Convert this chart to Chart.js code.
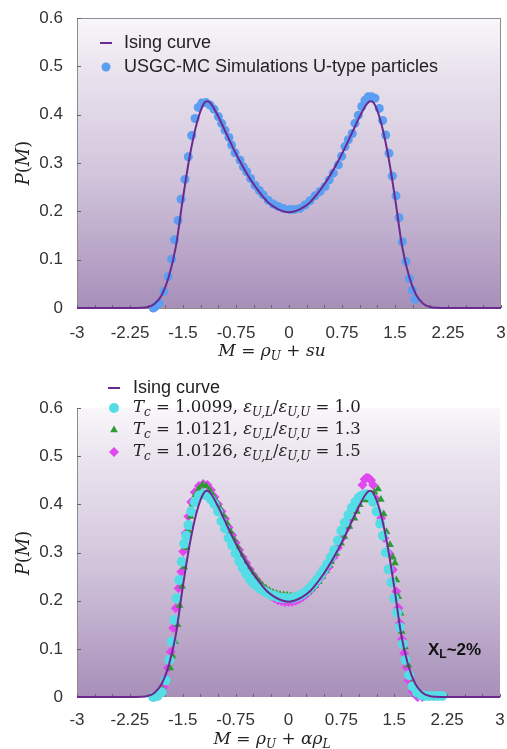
<!DOCTYPE html>
<html>
<head>
<meta charset="utf-8">
<script src="https://cdn.jsdelivr.net/npm/chart.js@4.4.1/dist/chart.umd.min.js"></script>
<style>
  body { margin: 0; background: #fff; width: 507px; height: 749px; overflow: hidden; position: relative; }
  canvas { position: absolute; left: 0; }
  #topChart { top: 0; }
  #botChart { top: 370px; }
</style>
</head>
<body>
<canvas id="topChart" width="507" height="370"></canvas>
<canvas id="botChart" width="507" height="379"></canvas>
<script>
// axis ticks
const xTicks = [-3, -2.25, -1.5, -0.75, 0, 0.75, 1.5, 2.25, 3];
const yTicks = [0, 0.1, 0.2, 0.3, 0.4, 0.5, 0.6];

// Ising curve
const isingM = [-3, -2.5, -2.2, -2.1, -2.0, -1.9, -1.8, -1.7, -1.6, -1.5, -1.4, -1.3, -1.2, -1.15, -1.1, -1.0, -0.9, -0.8, -0.7, -0.6, -0.5, -0.4, -0.3, -0.2, -0.1,
  0, 0.1, 0.2, 0.3, 0.4, 0.5, 0.6, 0.7, 0.8, 0.9, 1.0, 1.1, 1.15, 1.2, 1.3, 1.4, 1.5, 1.6, 1.7, 1.8, 1.9, 2.0, 2.1, 2.2, 2.5, 3];
const isingP = [0, 0, 0, 0.0005, 0.002, 0.009, 0.027, 0.065, 0.128, 0.228, 0.318, 0.385, 0.424, 0.428, 0.422, 0.396, 0.365, 0.334, 0.305, 0.279, 0.256, 0.236, 0.219, 0.208, 0.201,
  0.198, 0.201, 0.208, 0.219, 0.236, 0.256, 0.279, 0.305, 0.334, 0.365, 0.396, 0.422, 0.428, 0.424, 0.385, 0.318, 0.228, 0.128, 0.065, 0.027, 0.009, 0.002, 0.0005, 0, 0, 0];

// top panel: USGC-MC simulations, U-type particles
const usgcM = [-1.92, -1.89, -1.84, -1.77, -1.71, -1.66, -1.62, -1.57, -1.528, -1.472, -1.425, -1.377, -1.33, -1.284, -1.236, -1.175, -1.118, -1.061, -1.0, -0.953, -0.906, -0.85, -0.812, -0.764, -0.693, -0.646, -0.599, -0.543, -0.481, -0.42, -0.364, -0.293, -0.222, -0.151, -0.08, 0.014,
  0.08, 0.156, 0.226, 0.297, 0.368, 0.439, 0.509, 0.57, 0.627, 0.698, 0.745, 0.792, 0.839, 0.896, 0.934, 0.981, 1.029, 1.075, 1.122, 1.17, 1.217, 1.278, 1.325, 1.368, 1.415, 1.462, 1.514, 1.557, 1.604, 1.655, 1.703, 1.745, 1.783];
const usgcP = [0.0, 0.003, 0.01, 0.034, 0.065, 0.101, 0.141, 0.181, 0.225, 0.266, 0.313, 0.357, 0.392, 0.415, 0.424, 0.425, 0.42, 0.411, 0.396, 0.382, 0.368, 0.353, 0.337, 0.321, 0.306, 0.292, 0.282, 0.268, 0.254, 0.243, 0.234, 0.223, 0.215, 0.21, 0.206, 0.204,
  0.204, 0.206, 0.213, 0.222, 0.232, 0.241, 0.251, 0.265, 0.279, 0.296, 0.314, 0.334, 0.348, 0.361, 0.382, 0.399, 0.417, 0.43, 0.437, 0.437, 0.434, 0.413, 0.388, 0.358, 0.32, 0.273, 0.232, 0.187, 0.137, 0.096, 0.061, 0.037, 0.018];

// bottom panel: eps ratio 1.0 (cyan)
const cyanM = [-1.92, -1.86, -1.8, -1.74, -1.69, -1.657, -1.62, -1.587, -1.55, -1.515, -1.48, -1.45, -1.42, -1.38, -1.33, -1.27, -1.21, -1.15, -1.1, -1.05, -1.0, -0.95, -0.9, -0.85, -0.8, -0.75, -0.7, -0.65, -0.6, -0.55, -0.5, -0.45, -0.4, -0.35, -0.3, -0.25, -0.2, -0.15, -0.1, -0.05,
  0, 0.05, 0.1, 0.15, 0.2, 0.25, 0.3, 0.35, 0.4, 0.45, 0.5, 0.55, 0.6, 0.65, 0.7, 0.75, 0.8, 0.85, 0.9, 0.95, 1.0, 1.05, 1.1, 1.15, 1.2, 1.25, 1.3, 1.34, 1.38, 1.42, 1.46, 1.5, 1.54, 1.58, 1.62, 1.66, 1.71, 1.76, 1.82, 1.88, 1.94, 2.0, 2.06, 2.12, 2.18];
const cyanP = [0.0, 0.002, 0.01, 0.035, 0.077, 0.115, 0.16, 0.205, 0.243, 0.281, 0.318, 0.335, 0.357, 0.385, 0.405, 0.418, 0.422, 0.418, 0.41, 0.4, 0.385, 0.365, 0.35, 0.33, 0.315, 0.298, 0.282, 0.268, 0.256, 0.245, 0.236, 0.23, 0.225, 0.22, 0.216, 0.212, 0.21, 0.207, 0.206, 0.205,
  0.205, 0.205, 0.207, 0.21, 0.214, 0.219, 0.226, 0.234, 0.243, 0.253, 0.264, 0.276, 0.29, 0.305, 0.325, 0.345, 0.362, 0.378, 0.393, 0.405, 0.414, 0.419, 0.421, 0.418, 0.405, 0.385, 0.36, 0.335, 0.3, 0.265, 0.238, 0.205, 0.175, 0.145, 0.11, 0.077, 0.045, 0.022, 0.01, 0.004, 0.002, 0.002, 0.002, 0.002, 0.002];

// bottom panel: eps ratio 1.3 (green)
const greenM = [-1.85, -1.78, -1.72, -1.68, -1.645, -1.61, -1.575, -1.545, -1.51, -1.48, -1.45, -1.42, -1.39, -1.36, -1.32, -1.27, -1.22, -1.17, -1.12, -1.07, -1.02, -0.97, -0.92, -0.87, -0.82, -0.77, -0.72, -0.67, -0.62, -0.57, -0.52, -0.47, -0.42, -0.37, -0.32, -0.27, -0.22, -0.17, -0.12, -0.07, -0.02,
  0.03, 0.08, 0.13, 0.18, 0.23, 0.28, 0.33, 0.38, 0.43, 0.48, 0.53, 0.58, 0.605, 0.676, 0.746, 0.793, 0.864, 0.935, 0.97, 1.01, 1.08, 1.15, 1.22, 1.27, 1.31, 1.35, 1.39, 1.44, 1.48, 1.51, 1.53, 1.557, 1.59, 1.605, 1.65, 1.7, 1.747, 1.8, 1.86, 1.92];
const greenP = [0.002, 0.015, 0.035, 0.06, 0.085, 0.115, 0.15, 0.19, 0.23, 0.27, 0.31, 0.345, 0.375, 0.4, 0.42, 0.433, 0.44, 0.438, 0.43, 0.418, 0.405, 0.392, 0.376, 0.36, 0.343, 0.327, 0.311, 0.296, 0.282, 0.27, 0.259, 0.249, 0.24, 0.232, 0.226, 0.221, 0.217, 0.215, 0.213, 0.212, 0.211,
  0.21, 0.208, 0.208, 0.21, 0.213, 0.218, 0.224, 0.231, 0.24, 0.25, 0.262, 0.274, 0.281, 0.298, 0.319, 0.333, 0.354, 0.371, 0.385, 0.399, 0.409, 0.409, 0.425, 0.432, 0.41, 0.38, 0.343, 0.316, 0.29, 0.278, 0.243, 0.208, 0.174, 0.136, 0.104, 0.066, 0.028, 0.01, 0.003, 0.0];

// bottom panel: eps ratio 1.5 (magenta)
const magentaM = [-1.9, -1.83, -1.77, -1.74, -1.71, -1.67, -1.636, -1.6, -1.56, -1.52, -1.494, -1.46, -1.42, -1.38, -1.33, -1.27, -1.21, -1.15, -1.1, -1.05, -1.0, -0.95, -0.9, -0.85, -0.8, -0.75, -0.7, -0.65, -0.6, -0.55, -0.5, -0.45, -0.4, -0.35, -0.3, -0.25, -0.2, -0.15, -0.1, -0.05,
  0, 0.05, 0.1, 0.15, 0.2, 0.25, 0.3, 0.35, 0.4, 0.45, 0.5, 0.57, 0.64, 0.7, 0.76, 0.82, 0.88, 0.94, 1.0, 1.05, 1.08, 1.11, 1.14, 1.17, 1.2, 1.25, 1.315, 1.36, 1.43, 1.48, 1.53, 1.56, 1.58, 1.61, 1.64, 1.67, 1.7, 1.76, 1.83, 1.9];
const magentaP = [0.0, 0.005, 0.02, 0.04, 0.06, 0.094, 0.143, 0.184, 0.226, 0.26, 0.302, 0.34, 0.375, 0.405, 0.425, 0.438, 0.442, 0.44, 0.43, 0.415, 0.4, 0.385, 0.37, 0.352, 0.336, 0.32, 0.305, 0.29, 0.278, 0.265, 0.253, 0.243, 0.233, 0.225, 0.217, 0.21, 0.205, 0.201, 0.199, 0.197,
  0.197, 0.198, 0.2, 0.203, 0.207, 0.213, 0.22, 0.228, 0.237, 0.247, 0.258, 0.27, 0.29, 0.31, 0.33, 0.35, 0.37, 0.39, 0.415, 0.44, 0.452, 0.455, 0.454, 0.45, 0.44, 0.41, 0.371, 0.33, 0.298, 0.264, 0.219, 0.185, 0.153, 0.12, 0.091, 0.062, 0.035, 0.012, 0.0, 0.0];

const pts = (xs, ys) => xs.map((x, i) => ({ x: x, y: ys[i] }));

const purple = '#6b2a8f';
const serif = '"DejaVu Serif", "Liberation Serif", serif';
const sans = '"Liberation Sans", Arial, sans-serif';

// draws a run of text pieces; style: i italic, r roman, s italic subscript, b bold sans, bs bold sans subscript
function drawRich(ctx, parts, x, y, size, align) {
  const fontOf = (st) => {
    if (st === 'b') return 'bold ' + size + 'px ' + sans;
    if (st === 'bs') return 'bold ' + Math.round(size * 0.7) + 'px ' + sans;
    if (st === 's') return 'italic ' + Math.round(size * 0.7) + 'px ' + serif;
    if (st === 'i') return 'italic ' + size + 'px ' + serif;
    return size + 'px ' + serif;
  };
  let total = 0;
  parts.forEach(p => { ctx.font = fontOf(p[1]); total += ctx.measureText(p[0]).width; });
  let cx = align === 'center' ? x - total / 2 : x;
  ctx.textBaseline = 'middle';
  ctx.textAlign = 'left';
  parts.forEach(p => {
    ctx.font = fontOf(p[1]);
    const sub = p[1] === 's' || p[1] === 'bs';
    ctx.fillText(p[0], cx, sub ? y + size * 0.3 : y);
    cx += ctx.measureText(p[0]).width;
  });
}

// purple shading of the plot area
const areaShade = {
  id: 'areaShade',
  beforeDatasetsDraw(chart, args, opts) {
    const a = chart.chartArea, ctx = chart.ctx;
    const g = ctx.createLinearGradient(0, a.top, 0, a.bottom);
    g.addColorStop(0, '#f9f7fa');
    g.addColorStop(0.15, '#ece6f0');
    g.addColorStop(0.55, '#d1c4db');
    g.addColorStop(1, '#a78fb9');
    ctx.save();
    ctx.fillStyle = g;
    ctx.fillRect(a.left, a.top, a.right - a.left, a.bottom - a.top);
    ctx.strokeStyle = '#8d8d8d';
    ctx.lineWidth = 1;
    if (opts.frame) {
      ctx.strokeRect(a.left + 0.5, a.top + 0.5, a.right - a.left - 1, a.bottom - a.top);
    } else {
      ctx.beginPath();
      ctx.moveTo(a.left + 0.5, a.top);
      ctx.lineTo(a.left + 0.5, a.bottom);
      ctx.stroke();
    }
    // small inner ticks
    ctx.strokeStyle = '#666';
    const ys = chart.scales.y, xs = chart.scales.x;
    yTicks.forEach(v => {
      const py = Math.round(ys.getPixelForValue(v)) + 0.5;
      ctx.beginPath(); ctx.moveTo(a.left, py); ctx.lineTo(a.left + 4, py); ctx.stroke();
    });
    for (let v = -3; v <= 3.001; v += 0.25) {
      const px = Math.round(xs.getPixelForValue(v)) + 0.5;
      ctx.beginPath(); ctx.moveTo(px, a.bottom); ctx.lineTo(px, a.bottom - 3); ctx.stroke();
    }
    ctx.restore();
  }
};

// legend, axis titles and notes drawn as text
const textLayer = {
  id: 'textLayer',
  afterDraw(chart, args, opts) {
    const ctx = chart.ctx;
    ctx.save();
    ctx.fillStyle = '#222';
    opts.legend.forEach(row => {
      const ds = chart.data.datasets[row.ds];
      if (row.line) {
        ctx.strokeStyle = ds.borderColor;
        ctx.lineWidth = 2;
        ctx.beginPath(); ctx.moveTo(row.mx - 6, row.y); ctx.lineTo(row.mx + 6, row.y); ctx.stroke();
      } else {
        ctx.fillStyle = ds.backgroundColor;
        ctx.strokeStyle = ds.backgroundColor;
        Chart.helpers.drawPoint(ctx, { pointStyle: ds.pointStyle, radius: ds.pointRadius, rotation: 0, borderWidth: 0 }, row.mx, row.y);
      }
      ctx.fillStyle = '#222';
      if (row.rich) {
        drawRich(ctx, row.rich, row.tx, row.y, row.size, 'left');
      } else {
        ctx.font = row.size + 'px ' + sans;
        ctx.textBaseline = 'middle';
        ctx.textAlign = 'left';
        ctx.fillText(row.text, row.tx, row.y);
      }
    });
    drawRich(ctx, opts.xTitle, opts.xTitleX, opts.xTitleY, 17, 'center');
    ctx.save();
    ctx.translate(opts.yTitleX, opts.yTitleY);
    ctx.rotate(-Math.PI / 2);
    drawRich(ctx, [['P', 'i'], ['(', 'r'], ['M', 'i'], [')', 'r']], 0, 0, 18, 'center');
    ctx.restore();
    if (opts.note) {
      ctx.fillStyle = '#111';
      drawRich(ctx, opts.note.parts, opts.note.x, opts.note.y, 17, 'left');
    }
    ctx.restore();
  }
};

function baseOptions(padRight, xHeight, tickPad) {
  return {
    responsive: false,
    animation: false,
    layout: { padding: { left: 0, right: padRight, top: 0, bottom: 0 } },
    plugins: { legend: { display: false }, tooltip: { enabled: false } },
    scales: {
      x: {
        type: 'linear', min: -3, max: 3,
        afterBuildTicks: s => { s.ticks = xTicks.map(v => ({ value: v })); },
        afterFit: s => { s.height = xHeight; s.paddingLeft = 0; s.paddingRight = 0; },
        grid: { display: false, drawTicks: false },
        border: { display: false },
        ticks: { color: '#333', font: { size: 17, family: sans }, padding: tickPad, maxRotation: 0, autoSkip: false,
          callback: v => String(v) }
      },
      y: {
        type: 'linear', min: 0, max: 0.6,
        afterBuildTicks: s => { s.ticks = yTicks.map(v => ({ value: v })); },
        afterFit: s => { s.width = 77; s.paddingTop = 0; s.paddingBottom = 0; },
        grid: { display: false, drawTicks: false },
        border: { display: false },
        ticks: { color: '#333', font: { size: 17, family: sans }, padding: 14,
          callback: v => v === 0 ? '0' : v.toFixed(1) }
      }
    }
  };
}

const isingSet = {
  label: 'Ising curve', data: pts(isingM, isingP), showLine: true, borderColor: purple, borderWidth: 2,
  pointRadius: 0, cubicInterpolationMode: 'monotone', clip: false
};

// top panel
const topOpts = baseOptions(6, 62, 15);
topOpts.layout.padding.top = 18;
topOpts.plugins.areaShade = { frame: true };
topOpts.plugins.textLayer = {
  legend: [
    { ds: 0, line: true, mx: 106, tx: 124, y: 43, size: 18, text: 'Ising curve' },
    { ds: 1, mx: 106, tx: 124, y: 67, size: 18, text: 'USGC-MC Simulations U-type particles' }
  ],
  xTitle: [['M', 'i'], [' = ', 'r'], ['ρ', 'i'], ['U', 's'], [' + ', 'r'], ['su', 'i']],
  xTitleX: 272, xTitleY: 352, yTitleX: 24, yTitleY: 163
};
new Chart(document.getElementById('topChart'), {
  type: 'scatter',
  data: {
    datasets: [
      isingSet,
      { label: 'USGC-MC Simulations U-type particles', data: pts(usgcM, usgcP), backgroundColor: '#5b9ef2',
        borderWidth: 0, pointRadius: 4.5, pointStyle: 'circle', clip: false }
    ]
  },
  options: topOpts,
  plugins: [areaShade, textLayer]
});

// bottom panel
const botOpts = baseOptions(7, 52, 13);
botOpts.layout.padding.top = 38;
botOpts.plugins.areaShade = { frame: false };
botOpts.plugins.textLayer = {
  legend: [
    { ds: 0, line: true, mx: 114, tx: 133, y: 18, size: 18, text: 'Ising curve' },
    { ds: 1, mx: 114, tx: 133, y: 38, size: 16.5,
      rich: [['T', 'i'], ['c', 's'], [' = 1.0099, ', 'r'], ['ε', 'i'], ['U,L', 's'], ['/', 'r'], ['ε', 'i'], ['U,U', 's'], [' = 1.0', 'r']] },
    { ds: 2, mx: 114, tx: 133, y: 60, size: 16.5,
      rich: [['T', 'i'], ['c', 's'], [' = 1.0121, ', 'r'], ['ε', 'i'], ['U,L', 's'], ['/', 'r'], ['ε', 'i'], ['U,U', 's'], [' = 1.3', 'r']] },
    { ds: 3, mx: 114, tx: 133, y: 82, size: 16.5,
      rich: [['T', 'i'], ['c', 's'], [' = 1.0126, ', 'r'], ['ε', 'i'], ['U,L', 's'], ['/', 'r'], ['ε', 'i'], ['U,U', 's'], [' = 1.5', 'r']] }
  ],
  xTitle: [['M', 'i'], [' = ', 'r'], ['ρ', 'i'], ['U', 's'], [' + ', 'r'], ['αρ', 'i'], ['L', 's']],
  xTitleX: 272, xTitleY: 370, yTitleX: 24, yTitleY: 183,
  note: { parts: [['X', 'b'], ['L', 'bs'], ['~2%', 'b']], x: 428, y: 280 }
};
new Chart(document.getElementById('botChart'), {
  type: 'scatter',
  data: {
    datasets: [
      isingSet,
      { label: 'Tc = 1.0099', data: pts(cyanM, cyanP), backgroundColor: '#55dde6', borderWidth: 0,
        pointRadius: 5, pointStyle: 'circle', clip: false },
      { label: 'Tc = 1.0121', data: pts(greenM, greenP), backgroundColor: '#2f9a33', borderWidth: 0,
        pointRadius: 4.5, pointStyle: 'triangle', clip: false },
      { label: 'Tc = 1.0126', data: pts(magentaM, magentaP), backgroundColor: '#e048ef', borderWidth: 0,
        pointRadius: 5, pointStyle: 'rectRot', clip: false }
    ]
  },
  options: botOpts,
  plugins: [areaShade, textLayer]
});
</script>
</body>
</html>
